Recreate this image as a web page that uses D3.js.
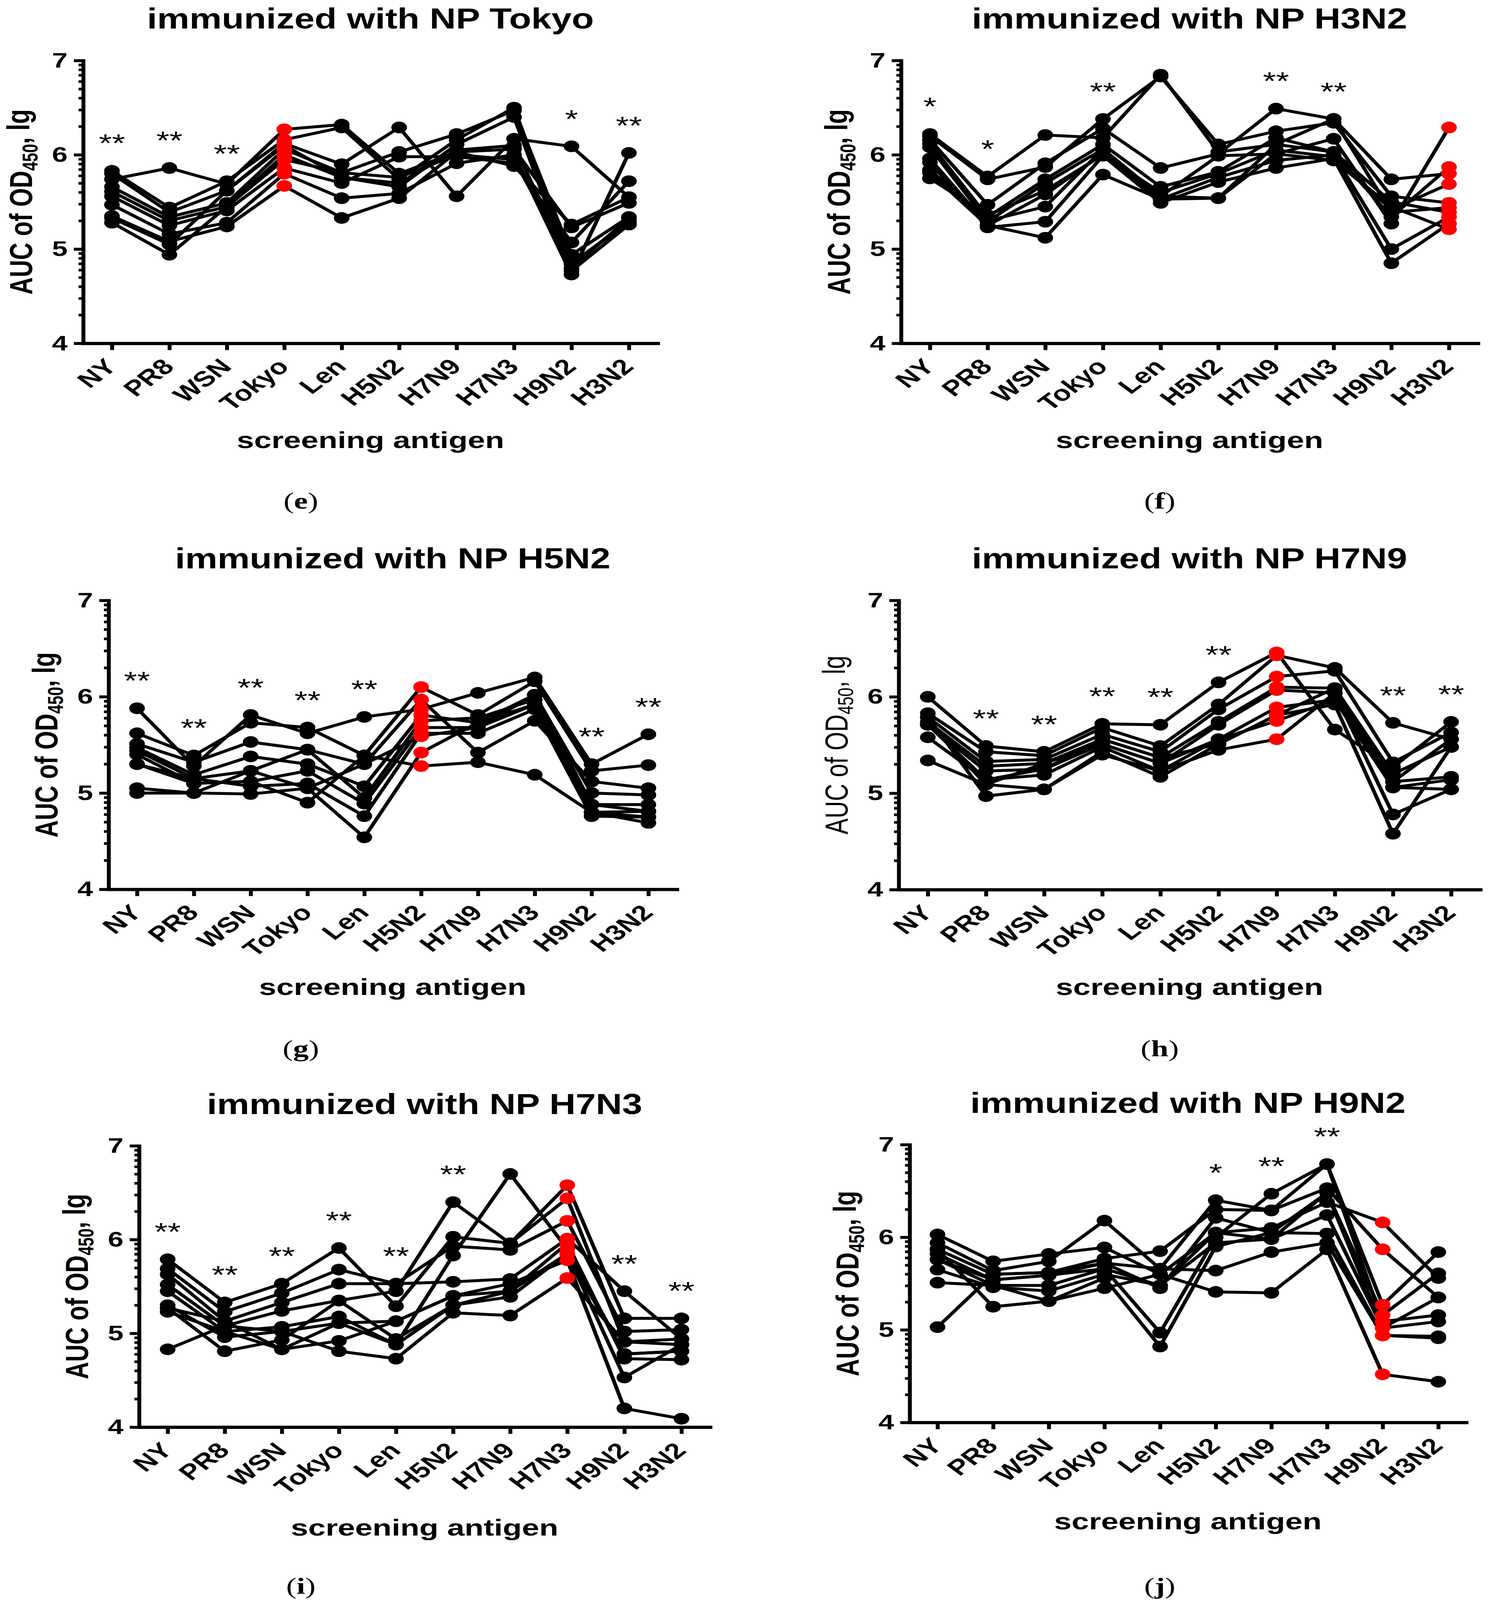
<!DOCTYPE html>
<html>
<head>
<meta charset="utf-8">
<script src="https://cdn.jsdelivr.net/npm/d3@7"></script>
<style>
    html, body { margin: 0; padding: 0; background: #fff; overflow: hidden; }
    svg { display: block; }
    text { font-family: "Liberation Sans", Arial, sans-serif; fill: #000; }
</style>
</head>
<body>
<div id="chart"></div>
<script>
const width = 3808;
const height = 5471;

////////////////////////////////////////////////////////
// DATA
////////////////////////////////////////////////////////

// screening antigens on the x axis
const antigens = ["NY", "PR8", "WSN", "Tokyo", "Len", "H5N2", "H7N9", "H7N3", "H9N2", "H3N2"];
const yTicks = [4, 5, 6, 7];

// one row per mouse, one AUC value (lg) per screening antigen
const tokyoMice = [
    [5.74, 5.86, 5.69, 6.27, 6.32, 5.80, 6.03, 6.06, 5.23, 5.49],
    [5.83, 5.44, 5.72, 6.16, 6.29, 5.74, 6.16, 6.50, 4.84, 5.30],
    [5.80, 5.39, 5.62, 6.12, 5.90, 6.29, 5.56, 6.17, 6.09, 5.55],
    [5.66, 5.34, 5.49, 6.06, 5.81, 6.03, 6.22, 6.47, 4.94, 5.34],
    [5.61, 5.30, 5.45, 6.00, 5.76, 5.66, 6.11, 6.40, 4.77, 5.26],
    [5.56, 5.25, 5.41, 5.86, 5.70, 5.98, 5.98, 5.91, 5.07, 5.72],
    [5.47, 5.16, 5.28, 5.80, 5.54, 5.59, 5.91, 6.00, 4.73, 6.02],
    [5.35, 5.08, 5.24, 5.67, 5.33, 5.54, 6.03, 5.88, 5.26, 5.55],
    [5.33, 5.05, 5.62, 6.10, 5.76, 5.70, 6.05, 6.10, 4.80, 5.33],
    [5.28, 4.94, 5.45, 5.95, 5.81, 5.76, 6.00, 5.95, 4.85, 5.28]
];

const h3n2Mice = [
    [6.22, 5.77, 6.21, 6.18, 6.85, 6.03, 6.11, 6.38, 5.74, 5.80],
    [6.20, 5.74, 5.87, 6.38, 6.83, 6.11, 6.25, 6.34, 5.56, 5.49],
    [6.16, 5.47, 5.91, 6.28, 5.86, 6.01, 6.49, 6.38, 5.39, 5.44],
    [6.12, 5.34, 5.74, 6.11, 5.66, 5.82, 6.18, 6.03, 5.34, 5.87],
    [6.08, 5.29, 5.70, 6.06, 5.56, 5.99, 6.01, 6.17, 5.27, 6.29],
    [5.96, 5.25, 5.58, 6.01, 5.53, 5.76, 5.94, 6.00, 5.00, 5.34],
    [5.92, 5.23, 5.29, 5.99, 5.49, 5.71, 5.86, 5.96, 4.85, 5.27],
    [5.84, 5.30, 5.45, 6.06, 5.56, 5.54, 6.01, 5.94, 5.45, 5.21],
    [5.81, 5.25, 5.12, 5.79, 5.53, 5.54, 6.11, 6.03, 5.50, 5.39],
    [5.75, 5.36, 5.62, 6.00, 5.60, 5.80, 6.05, 5.98, 5.42, 5.69]
];

const h5n2Mice = [
    [5.88, 5.28, 5.81, 5.62, 5.79, 5.87, 6.04, 6.20, 5.30, 5.61],
    [5.62, 5.39, 5.73, 5.68, 5.39, 6.10, 5.81, 6.16, 5.23, 5.29],
    [5.51, 5.32, 5.53, 5.45, 5.30, 5.97, 5.42, 5.75, 5.12, 5.05],
    [5.47, 5.19, 5.38, 5.30, 5.07, 5.81, 5.73, 6.02, 5.00, 4.98],
    [5.44, 5.15, 5.23, 5.45, 4.95, 5.75, 5.78, 5.97, 4.88, 4.88],
    [5.40, 5.10, 5.12, 5.23, 4.89, 5.68, 5.68, 5.92, 4.80, 4.81],
    [5.30, 5.15, 5.07, 5.10, 4.76, 5.62, 5.62, 5.87, 4.76, 4.75],
    [5.05, 5.00, 5.23, 5.05, 4.54, 5.42, 5.73, 5.92, 4.80, 4.69],
    [5.00, 5.00, 4.99, 5.05, 5.30, 5.59, 5.68, 6.02, 4.88, 4.81],
    [5.30, 5.10, 5.12, 4.90, 5.39, 5.28, 5.32, 5.19, 4.80, 4.75]
];

const h7n9Mice = [
    [6.00, 5.49, 5.43, 5.72, 5.71, 6.15, 6.46, 5.66, 5.27, 5.74],
    [5.83, 5.43, 5.39, 5.68, 5.49, 5.92, 6.43, 6.30, 5.73, 5.56],
    [5.79, 5.33, 5.35, 5.61, 5.43, 5.87, 6.21, 6.27, 5.32, 5.63],
    [5.74, 5.28, 5.31, 5.56, 5.37, 5.74, 6.10, 6.09, 5.20, 5.48],
    [5.71, 5.23, 5.25, 5.51, 5.31, 5.71, 6.07, 6.04, 5.12, 5.17],
    [5.58, 5.14, 5.19, 5.48, 5.23, 5.56, 5.89, 5.97, 5.06, 5.14],
    [5.34, 5.09, 5.04, 5.43, 5.17, 5.51, 5.81, 5.92, 4.58, 5.48],
    [5.79, 4.97, 5.04, 5.40, 5.23, 5.45, 5.56, 6.04, 4.78, 5.04],
    [5.74, 5.09, 5.31, 5.51, 5.31, 5.56, 5.75, 5.97, 5.06, 5.04],
    [5.71, 5.14, 5.25, 5.56, 5.37, 5.51, 5.81, 6.09, 5.12, 5.56]
];

const h7n3Mice = [
    [5.79, 5.33, 5.53, 5.91, 5.29, 6.03, 5.96, 6.58, 5.16, 5.16],
    [5.69, 5.23, 5.43, 5.68, 5.53, 5.55, 5.58, 6.01, 5.45, 4.94],
    [5.63, 5.13, 5.33, 5.53, 5.53, 5.93, 5.89, 6.20, 5.02, 5.04],
    [5.52, 5.08, 5.24, 5.35, 5.45, 6.40, 5.96, 6.44, 4.91, 4.88],
    [5.45, 5.02, 5.07, 5.18, 4.88, 5.83, 6.70, 5.90, 4.78, 4.81],
    [5.30, 4.96, 5.02, 5.11, 5.13, 5.40, 5.45, 5.96, 4.73, 4.72],
    [5.27, 4.81, 4.93, 5.35, 4.94, 5.30, 5.39, 5.85, 4.53, 4.88],
    [5.23, 5.02, 4.83, 4.92, 5.13, 5.40, 5.53, 5.78, 4.20, 4.09],
    [4.83, 5.08, 5.02, 4.81, 4.73, 5.22, 5.19, 5.59, 4.91, 4.94],
    [5.27, 5.13, 4.83, 5.11, 4.88, 5.30, 5.45, 5.85, 4.78, 4.81]
];

const h9n2Mice = [
    [6.03, 5.74, 5.82, 5.89, 5.60, 6.05, 6.10, 6.38, 6.16, 5.56],
    [5.94, 5.64, 5.74, 6.18, 5.66, 6.40, 6.29, 6.53, 5.87, 5.35],
    [5.87, 5.60, 5.62, 5.77, 5.85, 6.30, 6.29, 6.79, 5.27, 5.84],
    [5.82, 5.54, 5.59, 5.72, 5.45, 6.21, 6.05, 6.48, 5.16, 5.61],
    [5.76, 5.48, 5.48, 5.66, 4.97, 6.00, 6.47, 6.79, 5.09, 5.16],
    [5.65, 5.46, 5.42, 5.60, 5.48, 5.94, 5.98, 6.24, 5.02, 5.09],
    [5.51, 5.48, 5.31, 5.56, 4.82, 5.90, 6.05, 6.04, 4.94, 4.93],
    [5.03, 5.60, 5.62, 5.72, 5.66, 5.64, 5.84, 5.94, 4.94, 4.91],
    [5.87, 5.25, 5.31, 5.45, 5.60, 5.41, 5.40, 5.87, 4.52, 4.44],
    [5.76, 5.54, 5.59, 5.66, 5.48, 6.05, 5.98, 6.48, 5.02, 5.35]
];

// significance marks above each antigen column
const tokyoStars = ["**", "**", "**", "", "", "", "", "", "*", "**"];
const h3n2Stars  = ["*", "*", "", "**", "", "", "**", "**", "", ""];
const h5n2Stars  = ["**", "**", "**", "**", "**", "", "", "", "**", "**"];
const h7n9Stars  = ["", "**", "**", "**", "**", "**", "", "", "**", "**"];
const h7n3Stars  = ["**", "**", "**", "**", "**", "**", "", "", "**", "**"];
const h9n2Stars  = ["", "", "", "", "", "*", "**", "**", "", ""];

////////////////////////////////////////////////////////
// LAYOUT
////////////////////////////////////////////////////////

const panels = [
    { letter: "e", title: "immunized with NP Tokyo", mice: tokyoMice, stars: tokyoStars, red: "Tokyo", boldY: true,
      left: 213, right: 1683, top: 207, bottom: 1174, titleY: 98, xLabelY: 1532, letterX: 770, letterY: 1739 },
    { letter: "f", title: "immunized with NP H3N2", mice: h3n2Mice, stars: h3n2Stars, red: "H3N2", boldY: true,
      left: 2306, right: 3782, top: 207, bottom: 1174, titleY: 98, xLabelY: 1532, letterX: 2968, letterY: 1739 },
    { letter: "g", title: "immunized with NP H5N2", mice: h5n2Mice, stars: h5n2Stars, red: "H5N2", boldY: true,
      left: 278, right: 1732, top: 2053, bottom: 3041, titleY: 1944, xLabelY: 3402, letterX: 770, letterY: 3612 },
    { letter: "h", title: "immunized with NP H7N9", mice: h7n9Mice, stars: h7n9Stars, red: "H7N9", boldY: false,
      left: 2300, right: 3788, top: 2053, bottom: 3042, titleY: 1944, xLabelY: 3402, letterX: 2968, letterY: 3612 },
    { letter: "i", title: "immunized with NP H7N3", mice: h7n3Mice, stars: h7n3Stars, red: "H7N3", boldY: true,
      left: 356, right: 1817, top: 3918, bottom: 4880, titleY: 3810, xLabelY: 5250, letterX: 770, letterY: 5449 },
    { letter: "j", title: "immunized with NP H9N2", mice: h9n2Mice, stars: h9n2Stars, red: "H9N2", boldY: true,
      left: 2328, right: 3752, top: 3914, bottom: 4864, titleY: 3806, xLabelY: 5229, letterX: 2968, letterY: 5449 }
];

// the drawing is laid out in reference pixels and stretched to fill the window
const svg = d3.select("#chart")
    .append("svg")
    .attr("viewBox", `0 0 ${width} ${height}`)
    .attr("preserveAspectRatio", "none")
    .style("width", "100vw")
    .style("height", "100vh");

svg.append("rect")
    .attr("width", width)
    .attr("height", height)
    .attr("fill", "#fff");

function drawPanel(p) {

    const g = svg.append("g");
    const cx = (p.left + p.right) / 2;

    const x = d3.scalePoint()
        .domain(antigens)
        .range([p.left, p.right])
        .padding(0.5);

    const y = d3.scaleLinear()
        .domain([4, 7])
        .range([p.bottom, p.top]);

    // TITLE (slightly condensed, as in the source figure)
    g.append("text")
        .attr("transform", `translate(${cx},${p.titleY}) scale(0.93,1)`)
        .attr("text-anchor", "middle")
        .style("font-size", "100px")
        .style("font-weight", "bold")
        .text(p.title);

    // MINOR Y TICKS (log-spaced inside each decade)
    const minor = [];
    [4, 5, 6].forEach(v => d3.range(2, 10).forEach(k => minor.push(v + Math.log10(k))));

    g.append("g")
        .attr("transform", `translate(${p.left},0)`)
        .call(d3.axisLeft(y)
            .tickValues(minor)
            .tickSize(12)
            .tickSizeOuter(0)
            .tickFormat(""))
        .call(a => a.select(".domain").remove())
        .selectAll("line")
        .attr("stroke", "#000")
        .attr("stroke-width", 9);

    // Y AXIS
    const yAxis = g.append("g")
        .attr("transform", `translate(${p.left},0)`)
        .call(d3.axisLeft(y)
            .tickValues(yTicks)
            .tickSize(24)
            .tickSizeOuter(0)
            .tickPadding(16)
            .tickFormat(d3.format("d")));

    yAxis.select(".domain")
        .attr("stroke", "#000")
        .attr("stroke-width", 10)
        .attr("stroke-linecap", "square");

    yAxis.selectAll("line")
        .attr("stroke", "#000")
        .attr("stroke-width", 10);

    yAxis.selectAll("text")
        .style("font-size", "72px")
        .style("font-weight", "bold")
        .attr("fill", "#000");

    // X AXIS
    const xAxis = g.append("g")
        .attr("transform", `translate(0,${p.bottom})`)
        .call(d3.axisBottom(x)
            .tickSize(23)
            .tickSizeOuter(0));

    xAxis.select(".domain")
        .attr("stroke", "#000")
        .attr("stroke-width", 11)
        .attr("stroke-linecap", "square");

    xAxis.selectAll("line")
        .attr("stroke", "#000")
        .attr("stroke-width", 10);

    xAxis.selectAll("text")
        .attr("x", null)
        .attr("y", null)
        .attr("dy", null)
        .attr("transform", "translate(15,84) rotate(-45)")
        .style("text-anchor", "end")
        .style("font-size", "74px")
        .style("font-weight", "bold")
        .attr("fill", "#000");

    // X LABEL
    g.append("text")
        .attr("x", cx)
        .attr("y", p.xLabelY)
        .attr("text-anchor", "middle")
        .style("font-size", "80px")
        .style("font-weight", "bold")
        .text("screening antigen");

    // Y LABEL
    const yLabel = g.append("text")
        .attr("transform", `translate(${p.left - 131},${(p.top + p.bottom) / 2}) rotate(-90)`)
        .attr("text-anchor", "middle")
        .style("font-size", "82px")
        .style("font-weight", p.boldY ? "bold" : "normal");

    yLabel.append("tspan").text("AUC of OD");
    yLabel.append("tspan")
        .attr("dy", "0.25em")
        .style("font-size", "55px")
        .text("450");
    yLabel.append("tspan")
        .attr("dy", "-0.25em")
        .text(", lg");

    // LINES
    const line = d3.line()
        .x((d, i) => x(antigens[i]))
        .y(d => y(d));

    g.selectAll(".mouse")
        .data(p.mice)
        .enter()
        .append("path")
        .attr("class", "mouse")
        .attr("d", line)
        .attr("fill", "none")
        .attr("stroke", "#000")
        .attr("stroke-width", 10)
        .attr("stroke-linejoin", "round");

    // POINTS (immunizing antigen in red, drawn last)
    const points = [];
    p.mice.forEach(row => row.forEach((v, i) => {
        points.push({ antigen: antigens[i], value: v });
    }));
    points.sort((a, b) => (a.antigen === p.red) - (b.antigen === p.red));

    g.selectAll(".point")
        .data(points)
        .enter()
        .append("circle")
        .attr("class", "point")
        .attr("cx", d => x(d.antigen))
        .attr("cy", d => y(d.value))
        .attr("r", 20)
        .attr("fill", d => d.antigen === p.red ? "#ff0000" : "#000");

    // STARS above each column maximum
    g.selectAll(".star")
        .data(antigens.map((a, i) => ({
            antigen: a,
            mark: p.stars[i],
            top: d3.max(p.mice, row => row[i])
        })).filter(d => d.mark))
        .enter()
        .append("text")
        .attr("class", "star")
        .attr("x", d => x(d.antigen))
        .attr("y", d => y(d.top) - 64)
        .attr("text-anchor", "middle")
        .style("font-size", "86px")
        .text(d => d.mark);

    // PANEL LETTER
    const letter = g.append("text")
        .attr("x", p.letterX)
        .attr("y", p.letterY)
        .attr("text-anchor", "middle")
        .style("font-family", "'Liberation Serif', 'Times New Roman', serif")
        .style("font-size", "80px");

    letter.append("tspan").text("(");
    letter.append("tspan").style("font-weight", "bold").text(p.letter);
    letter.append("tspan").text(")");
}

panels.forEach(drawPanel);
</script>
</body>
</html>
